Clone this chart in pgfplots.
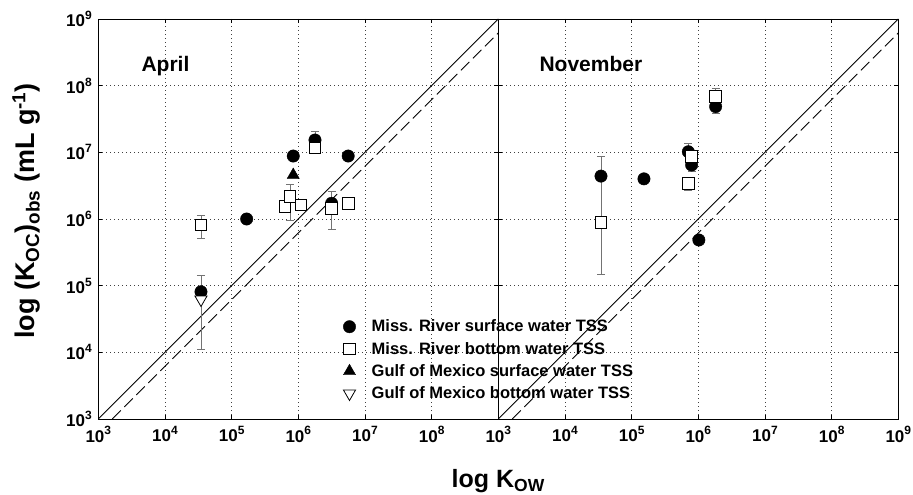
\documentclass[border=0pt]{standalone}
\usepackage{fontspec}
\setmainfont{Liberation Sans}
\usepackage{pgfplots}
\pgfplotsset{compat=1.18}
\newcommand\pw[1]{\pgfmathtruncatemacro\ex{round(#1)}10\raisebox{0.42em}{\fontsize{12}{12}\selectfont\ex}}

\begin{document}
\begin{tikzpicture}
% ---------------- April ----------------
\begin{axis}[
  width=400pt, height=400pt, scale only axis,
  xmode=log, ymode=log, log basis x=10, log basis y=10,
  xmin=1e3, xmax=1e9, ymin=1e3, ymax=1e9,
  xtick={1e3,1e4,1e5,1e6,1e7,1e8},
  ytick={1e3,1e4,1e5,1e6,1e7,1e8,1e9},
  grid=major,
  major grid style={black!75, line width=0.7pt, dash pattern=on 0.8pt off 3.2pt},
  tick align=inside, major tick length=4pt, minor tick length=0pt,
  axis line style={line width=0.9pt},
  tick style={black, line width=0.8pt},
  tick label style={font=\bfseries\fontsize{17}{20}\selectfont},
  xticklabel={\pw{\tick}},
  yticklabel={\pw{\tick}},
  xticklabel style={yshift=-4pt},
  yticklabel style={xshift=-3pt},
  ylabel={log (K\textsubscript{OC})\textsubscript{obs} (mL g\textsuperscript{-1})},
  ylabel style={font=\bfseries\fontsize{27}{31}\selectfont,
    at={(axis description cs:-0.18,0.52)}, anchor=center},
  xlabel={log K\textsubscript{OW}},
  xlabel style={font=\bfseries\fontsize{25}{29}\selectfont,
    at={(axis description cs:1,-0.1725)}, anchor=base},
  legend style={draw=none, fill=none, anchor=north west, at={(0.612,0.253)},
    font=\bfseries\fontsize{16.5}{19}\selectfont, row sep=4.8pt, column sep=14pt,
    inner sep=0pt},
  legend cell align=left,
]
\addplot[forget plot, black, line width=0.9pt] coordinates {(1e3,1e3) (1e9,1e9)};
\addplot[forget plot, black, line width=0.9pt, dash pattern=on 12pt off 5pt] coordinates {(1.6218e3,1e3) (1e9,6.166e8)};
% error bars
\addplot[forget plot, only marks, mark=none,
  error bars/.cd, y dir=both, y explicit, error mark=|,
  error bar style={black!55, line width=0.7pt},
  error mark options={black!55, mark size=4pt, line width=0.7pt}]
  table[y error plus=ep, y error minus=em] {
x       y       ep      em
1.78e6  1.53e7  5.6e6   0
3.16e6  1.72e6  8.5e5   0
3.47e4  8.1e4   6.4e4   0
3.47e4  8.1e5   3.1e5   3.0e5
7.5e5   2.16e6  1.14e6  1.19e6
3.16e6  1.45e6  0       7.5e5
3.47e4  6.2e4   0       5.09e4
};
% Miss. River surface water
\addplot[only marks, mark=*, mark size=6.2pt, mark options={fill=black, draw=black}] table {
x       y
8.4e5   8.8e6
1.78e6  1.53e7
5.6e6   8.8e6
1.68e5  1.0e6
3.16e6  1.72e6
3.47e4  8.1e4
};
% Miss. River bottom water
\addplot[only marks, mark=square*, mark size=5.8pt, mark options={fill=white, draw=black, line width=0.8pt}] table {
x       y
3.47e4  8.1e5
6.3e5   1.53e6
7.5e5   2.16e6
1.09e6  1.62e6
1.78e6  1.17e7
3.16e6  1.45e6
5.6e6   1.72e6
};
% Gulf of Mexico surface water
\addplot[only marks, mark=triangle*, mark size=7pt, mark options={fill=black, draw=black}] table {
x       y
8.4e5   4.57e6
};
% Gulf of Mexico bottom water
\addplot[only marks, mark=triangle*, mark size=7pt, mark options={fill=white, draw=black, line width=0.8pt, rotate=180}] table {
x       y
3.47e4  6.2e4
};
\node[anchor=base west, font=\bfseries\fontsize{21}{24}\selectfont] at (axis cs:3945,1.62e8) {April};
\legend{Miss. River surface water TSS, Miss. River bottom water TSS,
  Gulf of Mexico surface water TSS, Gulf of Mexico bottom water TSS}
\end{axis}

% ---------------- November ----------------
\begin{axis}[at={(400pt,0pt)},
  width=400pt, height=400pt, scale only axis,
  xmode=log, ymode=log, log basis x=10, log basis y=10,
  xmin=1e3, xmax=1e9, ymin=1e3, ymax=1e9,
  xtick={1e3,1e4,1e5,1e6,1e7,1e8,1e9},
  ytick={1e3,1e4,1e5,1e6,1e7,1e8,1e9},
  grid=major,
  major grid style={black!75, line width=0.7pt, dash pattern=on 0.8pt off 3.2pt},
  tick align=inside, major tick length=4pt, minor tick length=0pt,
  axis line style={line width=0.9pt},
  tick style={black, line width=0.8pt},
  tick label style={font=\bfseries\fontsize{17}{20}\selectfont},
  xticklabel={\pw{\tick}},
  yticklabels={},
  xticklabel style={yshift=-4pt},
]
\addplot[forget plot, black, line width=0.9pt] coordinates {(1e3,1e3) (1e9,1e9)};
\addplot[forget plot, black, line width=0.9pt, dash pattern=on 12pt off 5pt] coordinates {(1.6218e3,1e3) (1e9,6.166e8)};
\addplot[forget plot, only marks, mark=none,
  error bars/.cd, y dir=both, y explicit, error mark=|,
  error bar style={black!55, line width=0.7pt},
  error mark options={black!55, mark size=4pt, line width=0.7pt}]
  table[y error plus=ep, y error minus=em] {
x       y       ep      em
7.08e5  1.02e7  3.4e6   0
7.94e5  6.46e6  0       1.36e6
1.82e6  4.84e7  0       9.9e6
3.47e4  8.8e5   7.92e6  7.32e5
7.08e5  3.43e6  0       7.1e5
1.82e6  6.84e7  2.26e7  0
};
\addplot[only marks, mark=*, mark size=6.2pt, mark options={fill=black, draw=black}] table {
x       y
3.47e4  4.4e6
1.53e5  4.0e6
7.08e5  1.02e7
7.94e5  6.46e6
1.82e6  4.84e7
1.02e6  4.84e5
};
\addplot[only marks, mark=square*, mark size=5.8pt, mark options={fill=white, draw=black, line width=0.8pt}] table {
x       y
3.47e4  8.8e5
7.94e5  8.6e6
7.08e5  3.43e6
1.82e6  6.84e7
};
\node[anchor=base west, font=\bfseries\fontsize{21}{24}\selectfont] at (axis cs:3680,1.62e8) {November};
\end{axis}

\pgfresetboundingbox
\useasboundingbox (-98.3pt,-76pt) rectangle (814.7pt,419pt);
\end{tikzpicture}
\end{document}
